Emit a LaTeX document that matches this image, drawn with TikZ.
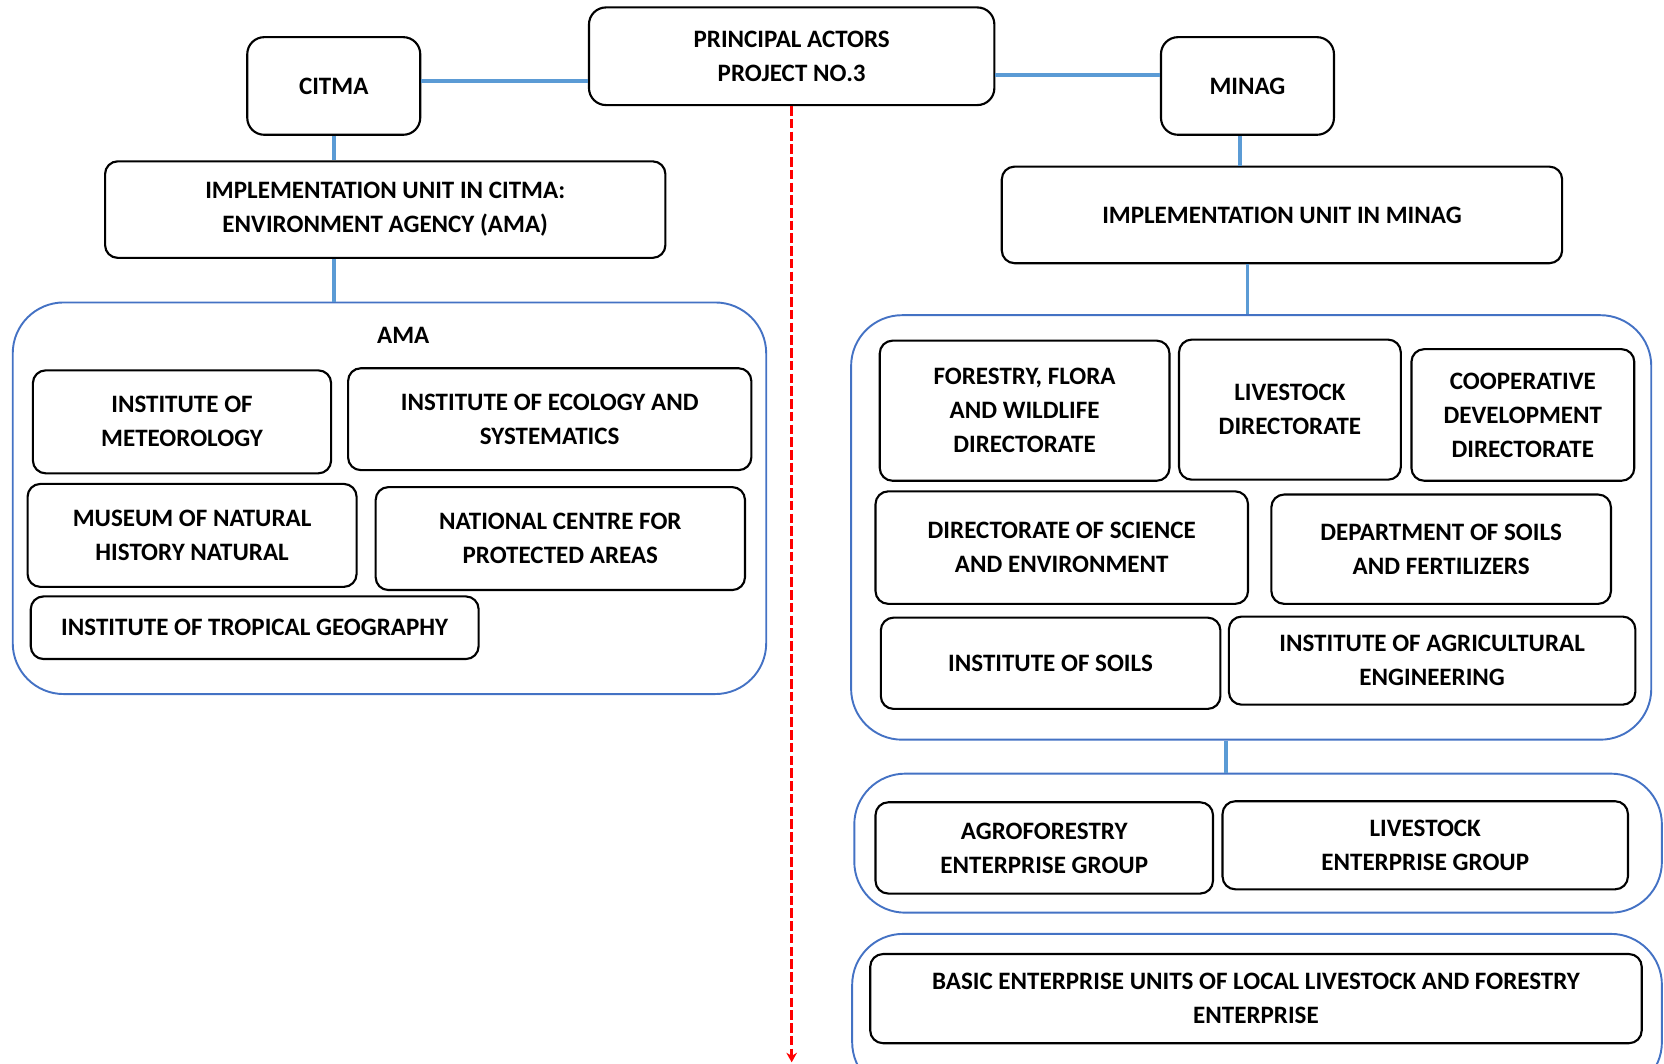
\documentclass[tikz,border=0pt]{standalone}
\usepackage{fontspec}
\setmainfont{Carlito}
\usepackage{tikz}
\usetikzlibrary{arrows.meta}
\definecolor{linkblue}{RGB}{91,155,213}
\definecolor{grpblue}{RGB}{68,114,196}
\definecolor{flowred}{RGB}{255,0,0}
\tikzset{every picture/.style={line width=1pt}}

\begin{document}
\begin{tikzpicture}[x=0.5pt,y=0.5pt,yscale=-1,xscale=1,
    box/.style={draw, rounded corners=6pt, inner sep=0pt, align=center, font=\fontsize{11.8}{16}\selectfont\bfseries},
    topbox/.style={box, rounded corners=8pt},
    group/.style={draw=grpblue, line width=0.9pt, rounded corners=24pt, inner sep=0pt},
    link/.style={draw=linkblue, line width=1.8pt},
    flow/.style={draw=flowred, line width=1.4pt, dash pattern=on 4.5pt off 1.5pt, -{Stealth[length=4.5pt,width=5pt]}}]
    \path[use as bounding box, clip] (0,0) rectangle (1568,1002);
    \node[topbox, minimum width=191pt, minimum height=46pt] (principal) at (746,53) {PRINCIPAL ACTORS\\PROJECT NO.3};
    \node[topbox, minimum width=81.5pt, minimum height=46pt] (citma) at (314.5,81) {CITMA};
    \node[topbox, minimum width=81.5pt, minimum height=46pt] (minag) at (1175.5,81) {MINAG};
    \node[box, minimum width=264pt, minimum height=45.5pt] (citmaunit) at (363,197.5) {IMPLEMENTATION UNIT IN CITMA:\\ENVIRONMENT AGENCY (AMA)};
    \node[box, minimum width=264pt, minimum height=45.5pt] (minagunit) at (1208,202.5) {IMPLEMENTATION UNIT IN MINAG};
    \node[group, minimum width=355pt, minimum height=184.5pt] (amagrp) at (367,469.5) {};
    \node[font=\fontsize{11.8}{16}\selectfont\bfseries] (amatitle) at (380,316) {AMA};
    \node[box, minimum width=140.5pt, minimum height=48.5pt] (imet) at (171.5,397.5) {INSTITUTE OF\\METEOROLOGY};
    \node[box, minimum width=190pt, minimum height=48pt] (iecol) at (518,395) {INSTITUTE OF ECOLOGY AND\\SYSTEMATICS};
    \node[box, minimum width=155pt, minimum height=48.5pt] (museum) at (181,504.5) {MUSEUM OF NATURAL\\HISTORY NATURAL};
    \node[box, minimum width=174pt, minimum height=48.5pt] (cnap) at (528,507.5) {NATIONAL CENTRE FOR\\PROTECTED AREAS};
    \node[box, minimum width=211pt, minimum height=29.5pt] (igeo) at (240,591.5) {INSTITUTE OF TROPICAL GEOGRAPHY};
    \node[group, minimum width=377pt, minimum height=200pt] (dirgrp) at (1179,497) {};
    \node[box, minimum width=136.5pt, minimum height=66pt] (forestry) at (965.5,387) {FORESTRY, FLORA\\AND WILDLIFE\\DIRECTORATE};
    \node[box, minimum width=104.5pt, minimum height=66pt] (livedir) at (1215.5,386) {LIVESTOCK\\DIRECTORATE};
    \node[box, minimum width=105pt, minimum height=62pt] (coopdir) at (1435,391) {COOPERATIVE\\DEVELOPMENT\\DIRECTORATE};
    \node[box, minimum width=175.5pt, minimum height=53pt] (scidir) at (1000.5,516) {DIRECTORATE OF SCIENCE\\AND ENVIRONMENT};
    \node[box, minimum width=160pt, minimum height=51.5pt] (soildept) at (1358,517.5) {DEPARTMENT OF SOILS\\AND FERTILIZERS};
    \node[box, minimum width=160pt, minimum height=43pt] (isoils) at (990,625) {INSTITUTE OF SOILS};
    \node[box, minimum width=191.5pt, minimum height=41.5pt] (iagri) at (1349.5,622.5) {INSTITUTE OF AGRICULTURAL\\ENGINEERING};
    \node[group, minimum width=380.5pt, minimum height=65.5pt] (entgrp) at (1185.5,794.5) {};
    \node[box, minimum width=159pt, minimum height=43pt] (agro) at (984,799) {AGROFORESTRY\\ENTERPRISE GROUP};
    \node[box, minimum width=191pt, minimum height=41.5pt] (livegrp) at (1343,796.5) {LIVESTOCK\\ENTERPRISE GROUP};
    \node[group, minimum width=381.5pt, minimum height=75pt] (basegrp) at (1184.5,955) {};
    \node[box, minimum width=363.5pt, minimum height=42pt] (basic) at (1183.5,941) {BASIC ENTERPRISE UNITS OF LOCAL LIVESTOCK AND FORESTRY\\ENTERPRISE};
    \coordinate (flowend) at (746,1001);
    \draw[link] ([yshift=-2.5pt]citma.east) -- ([yshift=-2.5pt]citma.east -| principal.west);
    \draw[link] ([yshift=-5pt]minag.west) -- ([yshift=-5pt]minag.west -| principal.east);
    \draw[link] (citma.south) -- (citma.south |- citmaunit.north);
    \draw[link] (citma.south |- citmaunit.south) -- (citma.south |- amagrp.north);
    \draw[link] ([xshift=-3.5pt]minag.south) -- ([xshift=-3.5pt]minag.south |- minagunit.north);
    \draw[link] (minag.south |- minagunit.south) -- (minag.south |- dirgrp.north);
    \draw[link] ([xshift=-12pt]dirgrp.south) -- ([xshift=-12pt]dirgrp.south |- entgrp.north);
    \draw[flow] (principal.south) -- (flowend);
\end{tikzpicture}
\end{document}
